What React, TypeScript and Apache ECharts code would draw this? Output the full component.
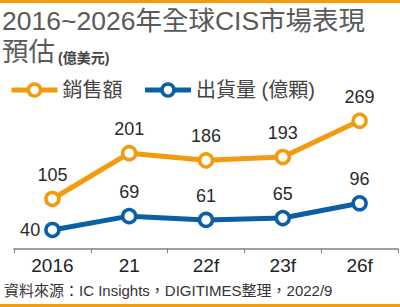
import React, { useEffect, useRef } from "react";
import * as echarts from "echarts";

const categories = ["2016", "21", "22f", "23f", "26f"];
const salesValues = [105, 201, 186, 193, 269];
const shipmentValues = [40, 69, 61, 65, 96];
const seriesNames = ["銷售額", "出貨量 (億顆)"];
const titleLine1 = "2016~2026年全球CIS市場表現";
const titleLine2 = "預估";
const unitText = "(億美元)";
const sourceText = "資料來源：IC Insights，DIGITIMES整理，2022/9";

const FONT = "'Liberation Sans', 'Noto Sans CJK TC', sans-serif";
const ORANGE = "#F39A0E";
const BLUE = "#0B5FA5";

export default function App() {
  const ref = useRef<HTMLDivElement>(null);
  useEffect(() => {
    if (!ref.current) return;
    const chart = echarts.init(ref.current, undefined, { renderer: "svg" });
    const mkSeries = (name: string, data: number[], color: string, firstLeft: boolean) => ({
      name,
      type: "line",
      data: data.map((v, i) =>
        firstLeft && i === 0
          ? { value: v, label: { position: "left", distance: 4 } }
          : v
      ),
      symbol: "circle",
      symbolSize: 13,
      showAllSymbol: true,
      lineStyle: { color, width: 5 },
      itemStyle: { color: "#fff", borderColor: color, borderWidth: 3.5 },
      label: {
        show: true,
        position: "top",
        distance: 7,
        fontFamily: FONT,
        fontSize: 18,
        color: "#2a2a2a",
      },
      z: 3,
    });
    chart.setOption({
      animation: false,
      backgroundColor: "#fff",
      grid: { left: 14, right: 2, top: 106, bottom: 57 },
      legend: {
        left: 4,
        top: 75,
        itemWidth: 46,
        itemHeight: 15,
        itemGap: 20,
        data: [
          { name: seriesNames[0], itemStyle: { color: "#fff", borderColor: ORANGE, borderWidth: 3.5 }, lineStyle: { color: ORANGE, width: 5 } },
          { name: seriesNames[1], itemStyle: { color: "#fff", borderColor: BLUE, borderWidth: 3.5 }, lineStyle: { color: BLUE, width: 5 } },
        ],
        textStyle: { fontFamily: FONT, fontSize: 20, color: "#444" },
      },
      xAxis: {
        type: "category",
        data: categories,
        boundaryGap: true,
        axisLine: { show: true, lineStyle: { color: "#808080", width: 1.5 } },
        axisTick: { show: true, inside: false, length: 4, lineStyle: { color: "#808080" } },
        axisLabel: { fontFamily: FONT, fontSize: 19, color: "#222", margin: 6 },
      },
      yAxis: {
        type: "value",
        min: -2,
        max: 300,
        show: false,
        splitLine: { show: false },
      },
      series: [
        mkSeries(seriesNames[0], salesValues, ORANGE, false),
        mkSeries(seriesNames[1], shipmentValues, BLUE, true),
      ],
      graphic: [
        { type: "rect", shape: { x: 0, y: 0, width: 400, height: 3 }, style: { fill: ORANGE } },
        { type: "rect", shape: { x: 0, y: 304, width: 400, height: 3 }, style: { fill: ORANGE } },
        {
          type: "text",
          left: 2,
          top: 8,
          style: { text: titleLine1, font: `normal 26.5px ${FONT}`, fill: "#5a5a5a" },
        },
        {
          type: "text",
          left: 2,
          top: 39,
          style: { text: titleLine2, font: `normal 26.5px ${FONT}`, fill: "#5a5a5a" },
        },
        {
          type: "text",
          left: 58,
          top: 51,
          style: { text: unitText, font: `bold 14px ${FONT}`, fill: "#444" },
        },
        {
          type: "text",
          left: 4,
          top: 283,
          style: { text: sourceText, font: `15px ${FONT}`, fill: "#333" },
        },
      ],
    });
    return () => chart.dispose();
  }, []);
  return (
    <div
      ref={ref}
      style={{ position: "fixed", left: 0, top: 0, width: 400, height: 307 }}
    />
  );
}
